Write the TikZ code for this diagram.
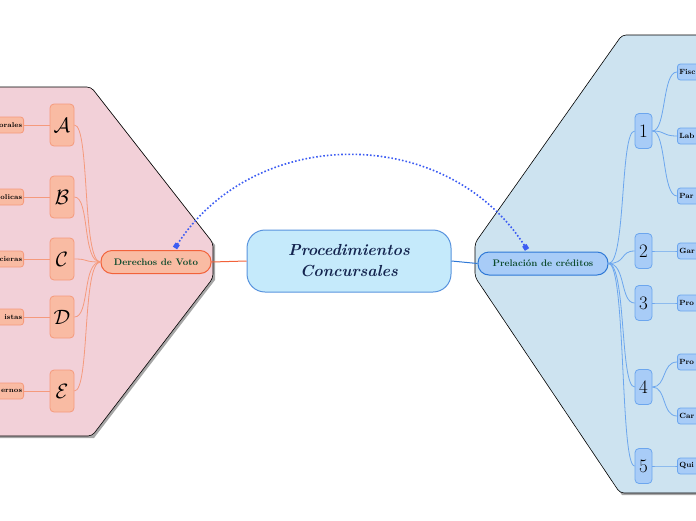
\documentclass[tikz,border=0pt]{standalone}
\usepackage{tikz}
\usetikzlibrary{arrows.meta}
\definecolor{pinkpanel}{HTML}{F2D0D8}
\definecolor{bluepanel}{HTML}{CDE3F0}
\definecolor{salmon}{HTML}{F9BBA3}
\definecolor{salmonline}{HTML}{F59A7C}
\definecolor{redline}{HTML}{F2623A}
\definecolor{skyfill}{HTML}{A8CCF7}
\definecolor{skyline}{HTML}{6CA6EE}
\definecolor{deepblue}{HTML}{2E78D6}
\definecolor{centerfill}{HTML}{C5EAFB}
\definecolor{navy}{HTML}{14244F}
\definecolor{darkgreen}{HTML}{0C4A2C}
\definecolor{dotblue}{HTML}{3C5CF2}

\begin{document}
\begin{tikzpicture}[x=1pt, y=-1pt,
    letterbox/.style={draw=salmonline, fill=salmon, line width=0.8pt, rounded corners=4pt, minimum width=24pt, minimum height=42pt, inner sep=0pt, font=\fontsize{22}{22}\selectfont},
    leafleft/.style={draw=salmonline, fill=salmon, line width=0.8pt, rounded corners=3pt, anchor=east, text width=40pt, align=right, minimum height=16pt, inner sep=1.5pt, font=\fontsize{7}{8}\selectfont\bfseries},
    numbox/.style={draw=skyline, fill=skyfill, line width=0.8pt, rounded corners=4pt, minimum width=17pt, minimum height=35pt, inner sep=0pt, font=\fontsize{19}{19}\selectfont},
    leafright/.style={draw=skyline, fill=skyfill, line width=0.8pt, rounded corners=3pt, anchor=west, text width=40pt, align=left, minimum height=16pt, inner sep=2pt, font=\fontsize{7.5}{8}\selectfont\bfseries},
    linkleft/.style={salmonline, line width=0.8pt},
    linkright/.style={skyline, line width=0.8pt}]
  \useasboundingbox (0,0) rectangle (696,520);
  \clip (0,0) rectangle (696,520);
  % panels
  \fill[gray!70] (-20,89) -- (93,89) -- (215,245) -- (215,280) -- (94,438) -- (-20,438) -- cycle;
  \filldraw[fill=pinkpanel, draw=black, line width=0.6pt, rounded corners=4pt] (-20,87) -- (91,87) -- (213,243) -- (213,278) -- (92,436) -- (-20,436) -- cycle;
  \fill[gray!70] (720,37) -- (624,37) -- (477,245) -- (477,279) -- (622,495) -- (720,495) -- cycle;
  \filldraw[fill=bluepanel, draw=black, line width=0.6pt, rounded corners=4pt] (720,35) -- (622,35) -- (475,243) -- (475,277) -- (620,493) -- (720,493) -- cycle;
  % main nodes
  \node[draw=deepblue!80, fill=centerfill, line width=1pt, rounded corners=18pt, minimum width=204pt, minimum height=62pt, align=center, text=navy, font=\fontsize{16}{21}\selectfont\bfseries\itshape] (proc) at (349,261) {Procedimientos\\Concursales};
  \node[draw=redline, fill=salmon, line width=1pt, rounded corners=11pt, minimum width=110pt, minimum height=23pt, inner sep=0pt, text=darkgreen, font=\fontsize{9.5}{10}\selectfont\bfseries] (voto) at (156,262) {Derechos de Voto};
  \node[draw=deepblue, fill=skyfill, line width=1pt, rounded corners=11pt, minimum width=130pt, minimum height=23pt, inner sep=0pt, text=darkgreen, font=\fontsize{9.5}{10}\selectfont\bfseries] (prel) at (543,263.5) {Prelación de créditos};
  \draw[redline, line width=1pt] (proc.west) -- (voto.east);
  \draw[deepblue, line width=1pt] (proc.east) -- (prel.west);
  % left branch
  \foreach \l/\y/\t in {A/125/orales, B/197/olicas, C/259/cieras, D/317/istas, E/391/ernos}{
    \node[letterbox] (l\l) at (62,\y) {$\mathcal{\l}$};
    \node[leafleft] (t\l) at (24,\y) {\t};
    \draw[linkleft] (t\l.east) -- (l\l.west);
    \draw[linkleft] (l\l.east) .. controls (90,\y) and (82,262) .. (voto.west);
  }
  % right branch
  \foreach \n/\y in {1/131, 2/251, 3/303, 4/387, 5/466}{
    \node[numbox] (n\n) at (643.5,\y) {\n};
    \draw[linkright] (prel.east) .. controls (626,263.5) and (620,\y) .. (n\n.west);
  }
  \foreach \k/\y/\t/\n in {a/72/Fisc/1, b/136/Lab/1, c/196/Par/1, d/251/Gar/2, e/303/Pro/3, f/362/Pro/4, g/416/Car/4, h/466/Qui/5}{
    \node[leafright] (r\k) at (677,\y) {\t};
    \draw[linkright] (n\n.east) .. controls ([xshift=14pt]n\n.east) and (662,\y) .. (r\k.west);
  }
  % relation
  \draw[dotblue, line width=1.6pt, dotted, {Square[length=5pt,width=5pt]}-{Square[length=5pt,width=5pt]}] (voto.north) ++(19,-2) .. controls (255,124) and (447,124) .. ([shift={(-16,-2)}]prel.north);
\end{tikzpicture}
\end{document}
